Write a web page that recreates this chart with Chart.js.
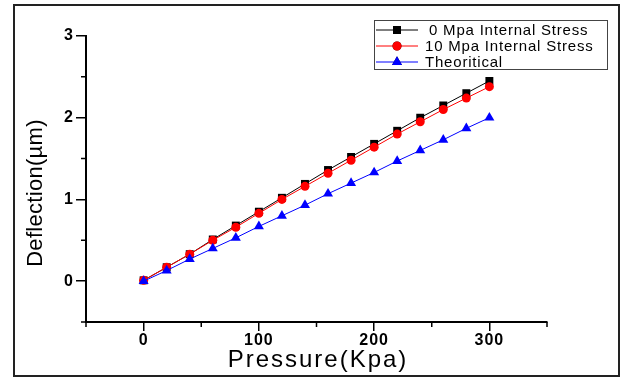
<!doctype html>
<html>
  <head>
    <title>Deflection vs Pressure</title>
    <script src="https://cdn.jsdelivr.net/npm/chart.js"></script>
    <style>
      body {
        margin: 0;
        background: #fff;
      }
      canvas {
        display: block;
      }
    </style>
  </head>
  <body>
    <canvas id="chart" width="623" height="380"></canvas>

    <script>
      const pressure = [0, 20, 40, 60, 80, 100, 120, 140, 160, 180, 200, 220, 240, 260, 280, 300];
      const stress0 = [0.01, 0.17, 0.33, 0.51, 0.68, 0.85, 1.02, 1.19, 1.36, 1.52, 1.68, 1.84, 2.0, 2.15, 2.3, 2.45];
      const stress10 = [0.01, 0.17, 0.33, 0.5, 0.66, 0.83, 1.0, 1.16, 1.32, 1.48, 1.64, 1.8, 1.95, 2.1, 2.24, 2.38];
      const theoretical = [0, 0.13, 0.27, 0.4, 0.53, 0.67, 0.8, 0.93, 1.07, 1.2, 1.33, 1.47, 1.6, 1.73, 1.87, 2.0];
      const seriesNames = ['0 Mpa Internal Stress', '10 Mpa Internal Stress', 'Theoritical'];
      const xTickLabels = [0, 100, 200, 300];
      const yTickLabels = [0, 1, 2, 3];

      const toPoints = (ys) => pressure.map((x, i) => ({ x: x, y: ys[i] }));
      const tickFont = { family: 'Liberation Sans, Arial', size: 16, weight: 'bold' };

      // frame, titles, legend and short minor ticks
      const extras = {
        id: 'extras',
        beforeDraw(chart) {
          chart.ctx.letterSpacing = '1px';
        },
        beforeDatasetsDraw(chart) {
          chart.ctx.letterSpacing = '0px';
        },
        afterDraw(chart) {
          const ctx = chart.ctx;
          const xs = chart.scales.x;
          const ys = chart.scales.y;
          ctx.save();
          ctx.letterSpacing = '0px';

          // minor ticks
          ctx.strokeStyle = '#000';
          ctx.lineWidth = 1.5;
          ctx.beginPath();
          [-0.5, 0.5, 1.5, 2.5].forEach((v) => {
            const py = ys.getPixelForValue(v);
            ctx.moveTo(ys.right - 5, py);
            ctx.lineTo(ys.right, py);
          });
          [-50, 50, 150, 250, 350].forEach((v) => {
            const px = xs.getPixelForValue(v);
            ctx.moveTo(px, xs.top);
            ctx.lineTo(px, xs.top + 5);
          });
          ctx.stroke();

          // outer frame
          ctx.strokeStyle = '#222';
          ctx.lineWidth = 2;
          ctx.strokeRect(14, 5, 605, 371);

          // axis titles
          ctx.fillStyle = '#000';
          ctx.textAlign = 'center';
          ctx.textBaseline = 'middle';
          ctx.font = '24px "Liberation Sans", Arial';
          ctx.letterSpacing = '2px';
          ctx.fillText('Pressure(Kpa)', 318, 360);

          ctx.save();
          ctx.translate(36, 193);
          ctx.rotate(-Math.PI / 2);
          ctx.font = '22px "Liberation Sans", Arial';
          ctx.letterSpacing = '0.3px';
          ctx.fillText('Deflection(\u00b5m)', 0, 0);
          ctx.restore();

          // legend
          ctx.strokeStyle = '#444';
          ctx.lineWidth = 1;
          ctx.strokeRect(374.5, 20.5, 233, 49);
          ctx.font = '15px "Liberation Sans", Arial';
          ctx.letterSpacing = '0.8px';
          ctx.textAlign = 'left';
          const rows = [30, 46, 62];
          chart.data.datasets.forEach((ds, i) => {
            const y = rows[i];
            ctx.strokeStyle = ds.borderColor;
            ctx.lineWidth = 1;
            ctx.beginPath();
            ctx.moveTo(376, y);
            ctx.lineTo(418, y);
            ctx.stroke();
            Chart.helpers.drawPoint(
              ctx,
              { pointStyle: ds.pointStyle, radius: ds.pointRadius, borderWidth: 0 },
              397,
              y,
            );
            ctx.fillStyle = ds.pointBackgroundColor;
            ctx.fill();
            ctx.fillStyle = '#000';
            ctx.fillText(seriesNames[i], i === 0 ? 429 : 425, y + 1);
          });
          ctx.restore();
        },
      };

      new Chart(document.getElementById('chart'), {
        type: 'line',
        data: {
          datasets: [
            {
              label: seriesNames[0],
              data: toPoints(stress0),
              borderColor: '#000',
              backgroundColor: '#000',
              pointBackgroundColor: '#000',
              pointBorderColor: '#000',
              pointStyle: 'rect',
              pointRadius: 5.6,
              borderWidth: 1,
              pointBorderWidth: 0,
              order: 2,
            },
            {
              label: seriesNames[1],
              data: toPoints(stress10),
              borderColor: '#ff0000',
              backgroundColor: '#ff0000',
              pointBackgroundColor: '#ff0000',
              pointBorderColor: '#ff0000',
              pointStyle: 'circle',
              pointRadius: 4.5,
              borderWidth: 1,
              pointBorderWidth: 0,
              order: 1,
            },
            {
              label: seriesNames[2],
              data: toPoints(theoretical),
              borderColor: '#0000ff',
              backgroundColor: '#0000ff',
              pointBackgroundColor: '#0000ff',
              pointBorderColor: '#0000ff',
              pointStyle: 'triangle',
              pointRadius: 5.8,
              borderWidth: 1,
              pointBorderWidth: 0,
              order: 0,
            },
          ],
        },
        options: {
          responsive: false,
          animation: false,
          devicePixelRatio: 1,
          layout: { padding: { left: 0, right: 76, top: 36, bottom: 0 } },
          plugins: {
            legend: { display: false },
            tooltip: { enabled: false },
          },
          scales: {
            x: {
              type: 'linear',
              min: -50,
              max: 350,
              afterFit(scale) {
                scale.height = 58;
              },
              ticks: {
                stepSize: 50,
                color: '#000',
                font: tickFont,
                padding: 0,
                maxRotation: 0,
                callback: (v) => (xTickLabels.includes(v) ? String(v) : ''),
              },
              border: { display: true, color: '#000', width: 2 },
              grid: {
                drawOnChartArea: false,
                drawTicks: true,
                tickLength: 9,
                lineWidth: 1.5,
                color: (c) => (c.tick && xTickLabels.includes(c.tick.value) ? '#000' : 'rgba(0,0,0,0)'),
              },
            },
            y: {
              min: -0.5,
              max: 3,
              afterFit(scale) {
                scale.width = 86;
              },
              ticks: {
                stepSize: 0.5,
                color: '#000',
                font: tickFont,
                padding: 2,
                callback: (v) => (yTickLabels.includes(v) ? String(v) : ''),
              },
              border: { display: true, color: '#000', width: 2 },
              grid: {
                drawOnChartArea: false,
                drawTicks: true,
                tickLength: 10,
                lineWidth: 1.5,
                color: (c) => (c.tick && yTickLabels.includes(c.tick.value) ? '#000' : 'rgba(0,0,0,0)'),
              },
            },
          },
        },
        plugins: [extras],
      });
    </script>
  </body>
</html>
